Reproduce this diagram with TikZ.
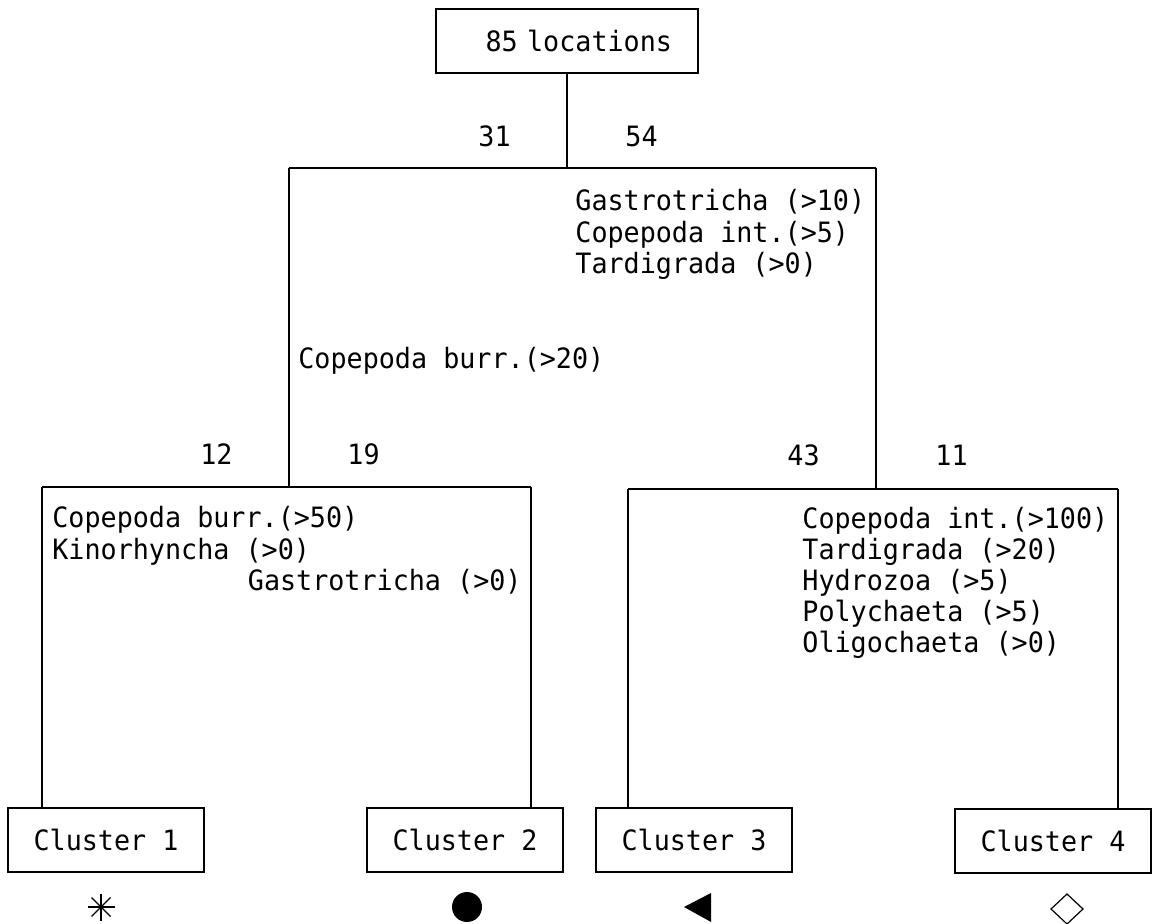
\documentclass[tikz,border=0pt]{standalone}
\usepackage{fontspec}
\newfontfamily\dmono[FakeStretch=0.955]{DejaVu Sans Mono}
\newcommand{\tfont}{\dmono\fontsize{14}{15.75}\selectfont}
\tikzset{
  box/.style={draw, line width=1.1pt, rectangle, inner sep=0pt, font=\tfont},
  clusterbox/.style={box, minimum width=98pt, minimum height=32pt},
  lbl/.style={anchor=base west, inner sep=0pt, font=\tfont},
  conn/.style={line width=1.1pt},
  sym/.style={line width=0.6pt}
}
\begin{document}
\begin{tikzpicture}[x=0.5pt, y=-0.5pt]
\useasboundingbox (0,0) rectangle (1152,924);

% top node
\node[box, minimum width=131pt, minimum height=32pt, text width=105pt, inner xsep=13pt, align=right] (top) at (567,41) {85 locations};

% clusters
\node[clusterbox] (c1) at (106,840) {Cluster 1};
\node[clusterbox] (c2) at (465,840) {Cluster 2};
\node[clusterbox] (c3) at (694,840) {Cluster 3};
\node[clusterbox] (c4) at (1053,841) {Cluster 4};

% junction coordinates
\coordinate (j0) at (567,168);
\coordinate (a1) at (289,168);
\coordinate (a2) at (876,168);
\coordinate (bl) at (42,487);
\coordinate (br) at (531,487);
\coordinate (cl) at (628,489);
\coordinate (cr) at (1118,489);

% connectors
\draw[conn] (top.south) -- (j0);
\draw[conn] (a1) -- (a2);
\draw[conn] (a1) -- (a1 |- bl);
\draw[conn] (a2) -- (a2 |- cl);
\draw[conn] (bl) -- (br);
\draw[conn] (cl) -- (cr);
\draw[conn] (bl) -- (bl |- c1.north);
\draw[conn] (br) -- (br |- c2.north);
\draw[conn] (cl) -- (cl |- c3.north);
\draw[conn] (cr) -- (cr |- c4.north);

% counts
\node[lbl] (n31) at (478,147) {31};
\node[lbl] (n54) at (625,147) {54};
\node[lbl] (n12) at (200,465) {12};
\node[lbl] (n19) at (347,465) {19};
\node[lbl] (n43) at (787,466) {43};
\node[lbl] (n11) at (935,466) {11};

% rules, upper right
\node[lbl] (r1) at (575,211) {Gastrotricha (>10)};
\node[lbl] (r2) at (575,242.5) {Copepoda int.(>5)};
\node[lbl] (r3) at (575,274) {Tardigrada (>0)};

% rule, upper left
\node[lbl] (l1) at (298,369) {Copepoda burr.(>20)};

% rules, lower left
\node[lbl] (ll1) at (52,528) {Copepoda burr.(>50)};
\node[lbl] (ll2) at (52,559.5) {Kinorhyncha (>0)};
\node[lbl] (ll3) at (247.5,591) {Gastrotricha (>0)};

% rules, lower right
\node[lbl] (lr1) at (802,529) {Copepoda int.(>100)};
\node[lbl] (lr2) at (802,560) {Tardigrada (>20)};
\node[lbl] (lr3) at (802,591) {Hydrozoa (>5)};
\node[lbl] (lr4) at (802,622) {Polychaeta (>5)};
\node[lbl] (lr5) at (802,653) {Oligochaeta (>0)};

% symbols
\draw[sym] (101,893.5) -- (101,920.5);
\draw[sym] (87.5,907) -- (114.5,907);
\draw[sym] (91.5,897.5) -- (110.5,916.5);
\draw[sym] (91.5,916.5) -- (110.5,897.5);
\fill (467,907) circle (7.5pt);
\fill (684,907) -- (711,893) -- (711,922) -- cycle;
\draw[sym] (1051,909) -- (1067,894) -- (1083,909) -- (1067,924) -- cycle;
\end{tikzpicture}
\end{document}
